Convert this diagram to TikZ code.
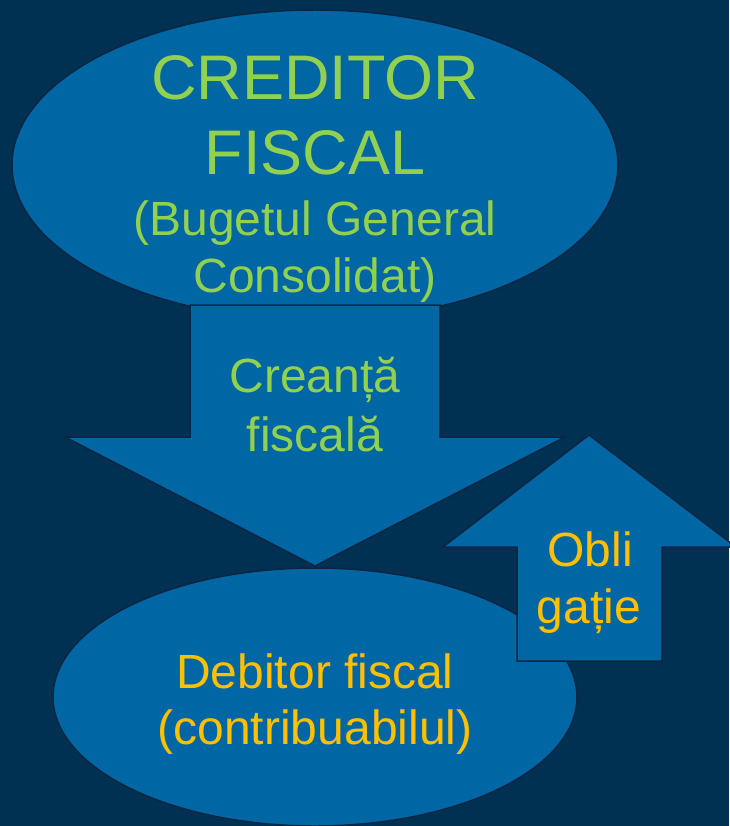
\documentclass[tikz,border=0pt]{standalone}
\usepackage{fontspec}
\setmainfont{Liberation Sans}
\usetikzlibrary{shapes.geometric}
\definecolor{bgc}{HTML}{003152}
\definecolor{fillc}{HTML}{0066A4}
\definecolor{edgec}{HTML}{0B2642}
\definecolor{greenc}{HTML}{92D050}
\definecolor{goldc}{HTML}{FFC000}
\begin{document}
\begin{tikzpicture}[x=1pt,y=-1pt,
  blob/.style={ellipse, draw=edgec, fill=fillc, line width=1.5pt, inner sep=0pt},
  shapeline/.style={draw=edgec, fill=fillc, line width=1.5pt, line join=miter},
  greentxt/.style={text=greenc, anchor=base, inner sep=0pt},
  goldtxt/.style={text=goldc, anchor=base, inner sep=0pt},
  bigtxt/.style={font=\fontsize{63}{75}\selectfont},
  midtxt/.style={font=\fontsize{48}{56}\selectfont}]
\useasboundingbox (0,0) rectangle (729,826);
\fill[bgc] (0,0) rectangle (729,826);
% creditor ellipse
\node[blob, minimum width=606pt, minimum height=310pt] (cred) at (315,165) {};
% debitor ellipse
\node[blob, minimum width=524pt, minimum height=258pt] (deb) at (315,697) {};
% down arrow
\draw[shapeline] (190,305) -- (440,305) -- (440,437) -- (565,437) -- (315,566) -- (65,437) -- (190,437) -- cycle;
% up arrow
\draw[shapeline] (589,435) -- (736,547) -- (662,547) -- (662,661) -- (517,661) -- (517,547) -- (443,547) -- cycle;
% texts
\node[greentxt, bigtxt] (t1) at (315,100) {CREDITOR};
\node[greentxt, bigtxt] (t2) at (315,175) {FISCAL};
\node[greentxt, midtxt] (t3) at (315,235) {(Bugetul General};
\node[greentxt, midtxt] (t4) at (315,292) {Consolidat)};
\node[greentxt, midtxt] (t5) at (315,392) {Creanță};
\node[greentxt, midtxt] (t6) at (315,451) {fiscală};
\node[goldtxt, midtxt] (t7) at (590,566) {Obli};
\node[goldtxt, midtxt] (t8) at (589,623) {gație};
\node[goldtxt, midtxt] (t9) at (315,688) {Debitor fiscal};
\node[goldtxt, midtxt] (t10) at (315,744) {(contribuabilul)};
\end{tikzpicture}
\end{document}
